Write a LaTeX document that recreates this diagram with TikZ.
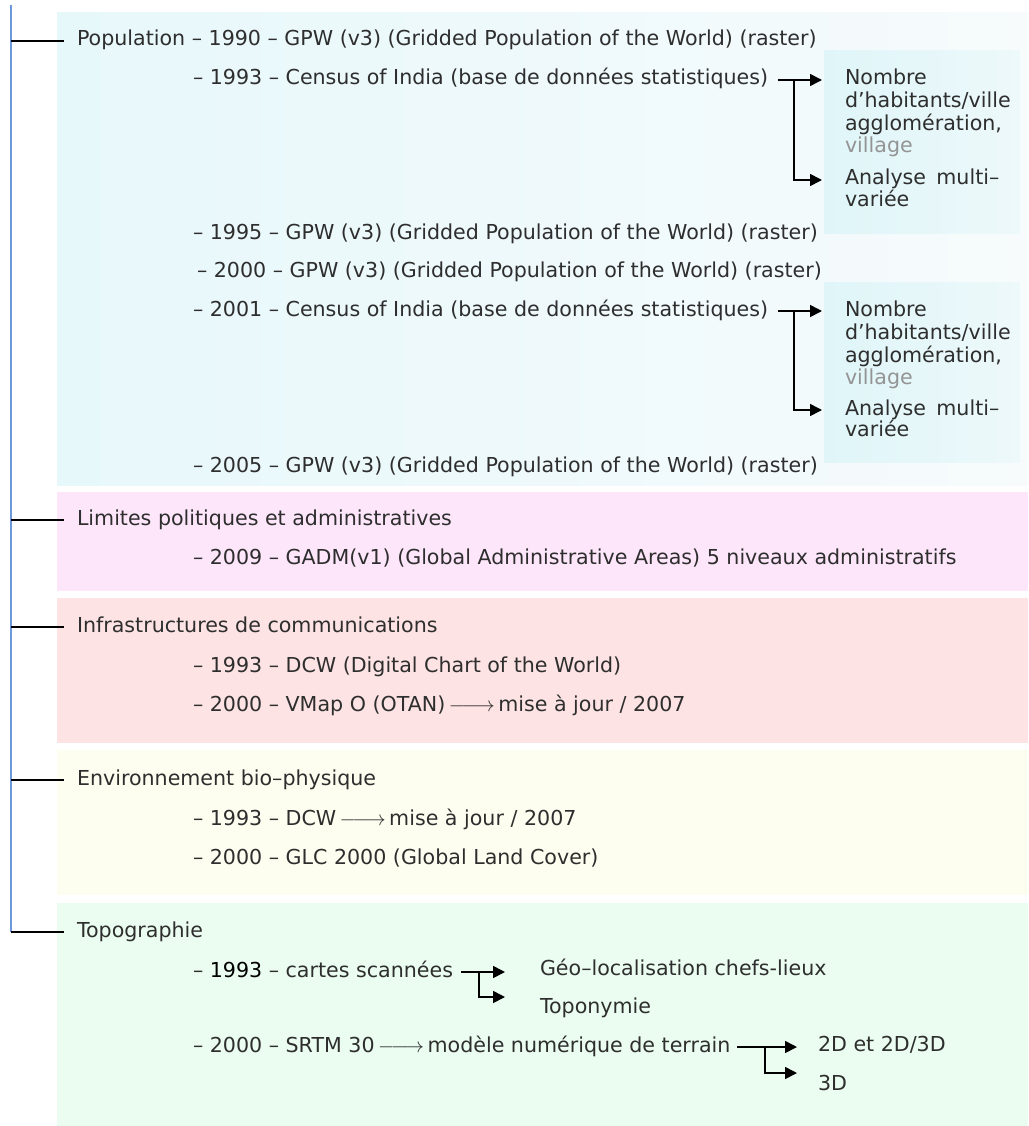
\documentclass[tikz,border=0pt]{standalone}
\usepackage{fontspec}
\setmainfont{DejaVu Sans}
\usetikzlibrary{arrows.meta}
\definecolor{txt}{HTML}{2E2E2E}
\definecolor{popL}{rgb}{0.905,0.972,0.983}
\definecolor{popR}{rgb}{0.968,0.984,0.99}
\definecolor{innL}{rgb}{0.875,0.962,0.972}
\definecolor{innR}{rgb}{0.93,0.975,0.982}
\definecolor{pinkbox}{rgb}{0.992,0.902,0.98}
\definecolor{redbox}{rgb}{0.992,0.89,0.89}
\definecolor{yelbox}{rgb}{0.996,0.996,0.94}
\definecolor{grnbox}{rgb}{0.918,0.992,0.94}
\definecolor{spine}{rgb}{0.42,0.6,0.85}
\newcommand{\longarr}{\,$\relbar\joinrel\relbar\joinrel\rightarrow$\,}
\tikzset{
  lbl/.style={anchor=west,inner sep=0pt,outer sep=0pt,text height=15pt,text depth=5pt,text=txt,font=\fontsize{20.6}{23}\selectfont},
  faded/.style={lbl,text=black!42},
  branch/.style={draw=black,line width=1.4pt},
  brarrow/.style={draw=black,line width=1.6pt,-{Triangle[length=12pt,width=12pt]}},
}
\begin{document}
\begin{tikzpicture}[x=1pt,y=-1pt]
\useasboundingbox (0,0) rectangle (1028,1126);
% background boxes
\shade[left color=popL,right color=popR] (57,13) rectangle (1028,485);
\shade[left color=innL,right color=innR] (824,51) rectangle (1020,233);
\shade[left color=innL,right color=innR] (824,282) rectangle (1020,462);
\fill[pinkbox] (57,492) rectangle (1028,591);
\fill[redbox] (57,598) rectangle (1028,743);
\fill[yelbox] (57,750) rectangle (1028,895);
\fill[grnbox] (57,903) rectangle (1028,1126);

% texts
\node[lbl] (pop) at (77,41) {Population – 1990 – GPW (v3) (Gridded Population of the World) (raster)};
\node[lbl] (c93) at (193,80) {– 1993 – Census of India (base de données statistiques)};
\node[lbl] (n1) at (845,80) {Nombre};
\node[lbl] (n1b) at (845,103) {d’habitants/ville};
\node[lbl] (n1c) at (845,126) {agglomération,};
\node[faded] (n1d) at (845,148) {village};
\node[lbl] (a1) at (845,180) {Analyse\hspace{0.5em}multi–};
\node[lbl] (a1b) at (845,201) {variée};
\node[lbl] (g95) at (193,234) {– 1995 – GPW (v3) (Gridded Population of the World) (raster)};
\node[lbl] (g00) at (197,272) {– 2000 – GPW (v3) (Gridded Population of the World) (raster)};
\node[lbl] (c01) at (193,311) {– 2001 – Census of India (base de données statistiques)};
\node[lbl] (n2) at (845,311) {Nombre};
\node[lbl] (n2b) at (845,334) {d’habitants/ville};
\node[lbl] (n2c) at (845,357) {agglomération,};
\node[faded] (n2d) at (845,379) {village};
\node[lbl] (a2) at (845,410) {Analyse\hspace{0.5em}multi–};
\node[lbl] (a2b) at (845,431) {variée};
\node[lbl] (g05) at (193,467) {– 2005 – GPW (v3) (Gridded Population of the World) (raster)};

\node[lbl] (lim) at (77,520) {Limites politiques et administratives};
\node[lbl] (gadm) at (193,559) {– 2009 – GADM(v1) (Global Administrative Areas) 5 niveaux administratifs};

\node[lbl] (inf) at (77,627) {Infrastructures de communications};
\node[lbl] (dcw) at (193,667) {– 1993 – DCW (Digital Chart of the World)};
\node[lbl] (vmap) at (193,706) {– 2000 – VMap O (OTAN)\longarr mise à jour / 2007};

\node[lbl] (env) at (77,780) {Environnement bio–physique};
\node[lbl] (dcw2) at (193,820) {– 1993 – DCW\longarr mise à jour / 2007};
\node[lbl] (glc) at (193,859) {– 2000 – GLC 2000 (Global Land Cover)};

\node[lbl] (topo) at (77,932) {Topographie};
\node[lbl] (cs) at (193,972) {– \textcolor{black}{1993} – cartes scannées};
\node[lbl] (geo) at (540,970) {Géo–localisation chefs-lieux};
\node[lbl] (topon) at (540,1008) {Toponymie};
\node[lbl] (srtm) at (193,1047) {– 2000 – SRTM 30\longarr modèle numérique de terrain};
\node[lbl] (d2) at (818,1046) {2D et 2D/3D};
\node[lbl] (d3) at (818,1085) {3D};

% spine and branches
\coordinate (sptop) at (11,5);
\coordinate (sp1) at (11,41);
\coordinate (sp2) at (11,520);
\coordinate (sp3) at (11,627);
\coordinate (sp4) at (11,780);
\coordinate (sp5) at (11,932);
\draw[spine,line width=1.4pt] (sptop) -- (sp5);
\draw[branch] (sp1) -- ([xshift=-13pt]pop.west);
\draw[branch] (sp2) -- ([xshift=-13pt]lim.west);
\draw[branch] (sp3) -- ([xshift=-13pt]inf.west);
\draw[branch] (sp4) -- ([xshift=-13pt]env.west);
\draw[branch] (sp5) -- ([xshift=-13pt]topo.west);

% bracket arrows
\draw[brarrow] ([xshift=10pt]c93.east) -- ([xshift=-23pt]c93.east -| n1.west);
\coordinate (j1) at (794,80);
\draw[brarrow] (j1) |- ([xshift=-23pt]a1.west);

\draw[brarrow] ([xshift=10pt]c01.east) -- ([xshift=-23pt]c01.east -| n2.west);
\coordinate (j2) at (794,311);
\draw[brarrow] (j2) |- ([xshift=-23pt]a2.west);

\draw[brarrow] ([xshift=8pt]cs.east) -- ([xshift=-35pt]cs.east -| geo.west);
\coordinate (j3) at (479,972);
\draw[brarrow] (j3) |- ([xshift=-35pt,yshift=11pt]topon.west);

\draw[brarrow] ([xshift=7pt]srtm.east) -- ([xshift=-21pt]srtm.east -| d2.west);
\coordinate (j4) at (765,1047);
\draw[brarrow] (j4) |- ([xshift=-21pt,yshift=12pt]d3.west);
\end{tikzpicture}
\end{document}
